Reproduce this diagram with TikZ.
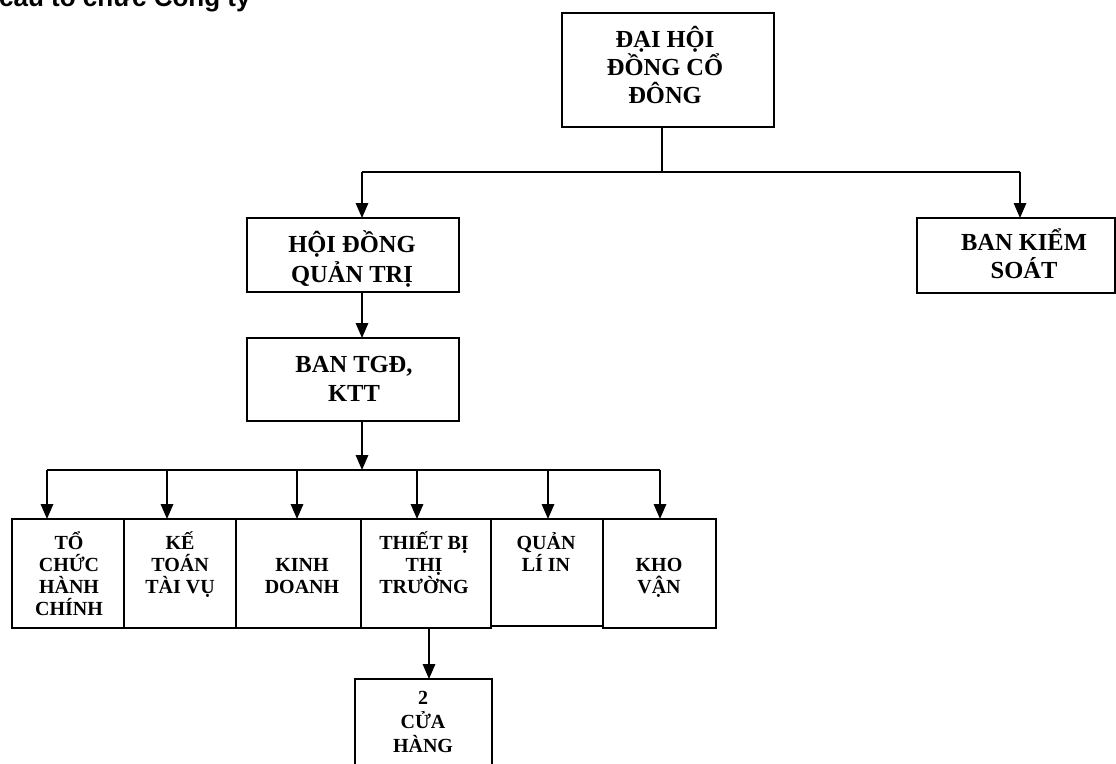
\documentclass[tikz,border=0pt]{standalone}
\usepackage{fontspec}
\setmainfont{Liberation Serif}
\newfontfamily\titlefont{Liberation Sans}
\usetikzlibrary{arrows.meta}
\begin{document}
\begin{tikzpicture}[x=1pt,y=-1pt,
  box/.style={draw, line width=1.9pt, rectangle, inner sep=0pt, outer sep=0pt, anchor=north west},
  bigtxt/.style={align=center, anchor=base, inner sep=0pt, font=\bfseries\fontsize{24.5}{29}\selectfont},
  smalltxt/.style={align=center, anchor=base, inner sep=0pt, font=\bfseries\fontsize{20}{22}\selectfont},
  conn/.style={line width=1.6pt},
  arr/.style={line width=1.6pt, -{Triangle[width=12.5pt,length=15pt]}}]
\useasboundingbox (0,0) rectangle (1116,763);
% title
\node[anchor=base west, inner sep=0pt, font=\titlefont\bfseries\fontsize{26}{30}\selectfont] (title) at (-1,6) {cấu tổ chức Công ty};
% top boxes
\node[box, minimum width=212pt, minimum height=114pt] (dh) at (562,13) {};
\node[box, minimum width=212pt, minimum height=74pt] (hd) at (247,218) {};
\node[box, minimum width=212pt, minimum height=83pt] (tgd) at (247,338) {};
\node[box, minimum width=198pt, minimum height=75pt] (bks) at (917,218) {};
\node[bigtxt, font=\bfseries\fontsize{24.5}{28}\selectfont] (dhT) at (665,103) {ĐẠI HỘI\\ĐỒNG CỔ\\ĐÔNG};
\node[bigtxt, font=\bfseries\fontsize{24.5}{30}\selectfont] (hdT) at (352,282) {HỘI ĐỒNG\\QUẢN TRỊ};
\node[bigtxt] (tgdT) at (354,401) {BAN TGĐ,\\KTT};
\node[bigtxt, font=\bfseries\fontsize{24.5}{28}\selectfont] (bksT) at (1024,278) {BAN KIỂM\\SOÁT};
% lower boxes
\node[box, minimum width=112pt, minimum height=109pt] (b1) at (12,519) {};
\node[box, minimum width=112pt, minimum height=109pt] (b2) at (124,519) {};
\node[box, minimum width=125pt, minimum height=109pt] (b3) at (236,519) {};
\node[box, minimum width=130pt, minimum height=109pt] (b4) at (361,519) {};
\node[box, minimum width=112pt, minimum height=107pt] (b5) at (491,519) {};
\node[box, minimum width=113pt, minimum height=109pt] (b6) at (603,519) {};
\node[box, minimum width=137pt, minimum height=100pt] (b7) at (355,679) {};
\node[smalltxt] (t1) at (69,615) {TỔ\\CHỨC\\HÀNH\\CHÍNH};
\node[smalltxt] (t2) at (180,593) {KẾ\\TOÁN\\TÀI VỤ};
\node[smalltxt] (t3) at (302,593) {KINH\\DOANH};
\node[smalltxt] (t4) at (424,593) {THIẾT BỊ\\THỊ\\TRƯỜNG};
\node[smalltxt] (t5) at (546,571) {QUẢN\\LÍ IN};
\node[smalltxt] (t6) at (659,593) {KHO\\VẬN};
\node[smalltxt, font=\bfseries\fontsize{20}{24}\selectfont] (t7) at (423,752) {2\\CỬA\\HÀNG};
% connectors
\coordinate (j1) at (662,172);
\coordinate (pL) at (362,172);
\coordinate (pR) at (1020,172);
\draw[conn] (j1 |- dh.south) -- (j1);
\draw[conn] (pL) -- (pR);
\draw[arr] (pL) -- (pL |- hd.north);
\draw[arr] (pR) -- (pR |- bks.north);
\draw[arr] (pL |- hd.south) -- (pL |- tgd.north);
\coordinate (j2) at (362,470);
\draw[arr] (pL |- tgd.south) -- (j2);
\coordinate (q1) at (47,470);
\coordinate (q2) at (167,470);
\coordinate (q3) at (297,470);
\coordinate (q4) at (417,470);
\coordinate (q5) at (548,470);
\coordinate (q6) at (660,470);
\draw[conn] (q1) -- (q6);
\draw[arr] (q1) -- (q1 |- b1.north);
\draw[arr] (q2) -- (q2 |- b2.north);
\draw[arr] (q3) -- (q3 |- b3.north);
\draw[arr] (q4) -- (q4 |- b4.north);
\draw[arr] (q5) -- (q5 |- b5.north);
\draw[arr] (q6) -- (q6 |- b6.north);
\coordinate (q7) at (429,650);
\draw[arr] (q7 |- b4.south) -- (q7 |- b7.north);
\end{tikzpicture}
\end{document}
